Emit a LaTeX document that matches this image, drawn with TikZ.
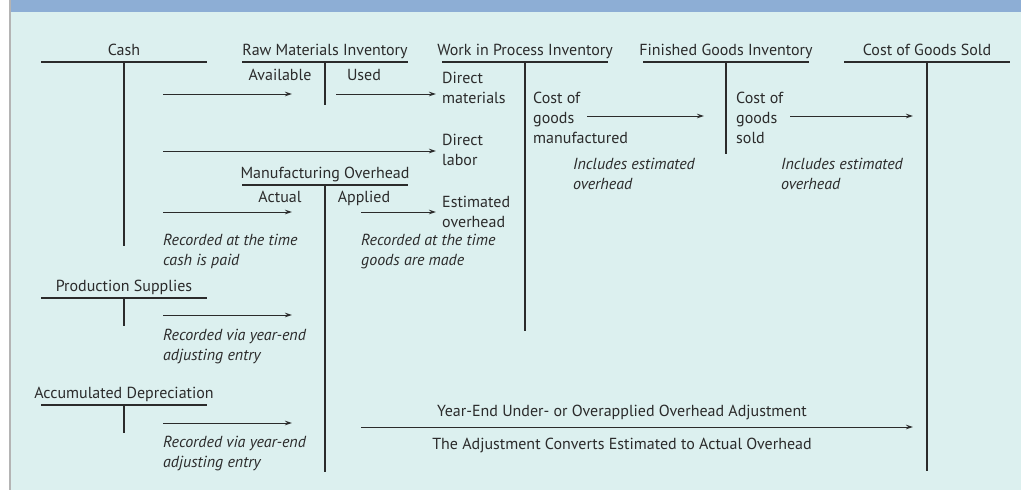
\documentclass[tikz,border=0pt]{standalone}
\usepackage{fontspec}
\setmainfont{PT Sans}
\usetikzlibrary{arrows.meta, positioning}

\definecolor{bandblue}{HTML}{8DAED5}
\definecolor{panel}{HTML}{DCF0EF}
\definecolor{edgegray}{HTML}{B4B4B4}
\definecolor{ink}{HTML}{2B2B2B}

\newcommand{\chartsize}{\fontsize{16}{20}\selectfont}

\tikzset{
  tline/.style={draw=ink, line width=1.4pt},
  flow/.style={draw=ink, line width=1pt, -{Stealth[length=7pt, width=4.5pt]}},
  acct/.style={anchor=base, inner sep=0pt, text=ink},
  lbl/.style={inner sep=0pt, text=ink, align=left, anchor=base west},
  note/.style={lbl, font=\chartsize\itshape},
}

\begin{document}
\begin{tikzpicture}[x=1pt, y=-1pt, font=\chartsize]
        % Hintergrund
        \useasboundingbox (0,0) rectangle (1021,490);
        \fill[white] (0,0) rectangle (1021,490);
        \fill[panel] (11,0) rectangle (1021,490);
        \fill[bandblue] (11,0) rectangle (1021,12);
        \draw[edgegray, line width=2pt] (10,0) -- (10,490);

        % T-Konten: Name/Mitte/Linie/Laenge/Titel
        \foreach \nm/\cx/\ty/\vlen/\ttl in {
            cash/124/62/184/Cash,
            rmi/325/62/43/Raw Materials Inventory,
            wip/525/62/269/Work in Process Inventory,
            fgi/726/62/92/Finished Goods Inventory,
            cogs/927/62/409/Cost of Goods Sold,
            moh/325/185/287/Manufacturing Overhead,
            ps/124/298/28/Production Supplies,
            ad/124/405/28/Accumulated Depreciation} {
            \node[acct] (\nm) at (\cx,\ty-7) {\ttl};
            \draw[tline] (\cx-83,\ty) -- (\cx+83,\ty);
            \draw[tline] (\cx,\ty) -- (\cx,\ty+\vlen);
        }

        % Soll / Haben
        \node[acct] (rmiL) at (280,80) {Available};
        \node[acct] (rmiR) at (364,80) {Used};
        \node[acct] (mohL) at (280,202) {Actual};
        \node[acct] (mohR) at (364,202) {Applied};

        % Eintraege (Grundlinie = letzte Zeile)
        \node[lbl] (dm) at (442,103) {Direct\\materials};
        \node[lbl] (dl) at (442,165) {Direct\\labor};
        \node[lbl] (eo) at (442,227) {Estimated\\overhead};
        \node[lbl] (cgm) at (533,143) {Cost of\\goods\\manufactured};
        \node[lbl] (cgs) at (736,143) {Cost of\\goods\\sold};
        \node[note] (inc1) at (573,189) {Includes estimated\\overhead};
        \node[note] (inc2) at (781,189) {Includes estimated\\overhead};
        \node[note] (rec1) at (163,265) {Recorded at the time\\cash is paid};
        \node[note] (rec2) at (361,265) {Recorded at the time\\goods are made};
        \node[note] (rec3) at (163,360) {Recorded via year-end\\adjusting entry};
        \node[note] (rec4) at (163,467) {Recorded via year-end\\adjusting entry};
        \node[acct] (adj1) at (622,416) {Year-End Under- or Overapplied Overhead Adjustment};
        \node[acct] (adj2) at (622,449) {The Adjustment Converts Estimated to Actual Overhead};

        % Pfeile
        \coordinate (a1) at (163,94);  \coordinate (b1) at (292,94);
        \coordinate (a2) at (336,94);  \coordinate (b2) at (436,94);
        \coordinate (a3) at (163,151); \coordinate (b3) at (436,151);
        \coordinate (a4) at (163,212); \coordinate (b4) at (292,212);
        \coordinate (a5) at (361,212); \coordinate (b5) at (436,212);
        \coordinate (a6) at (587,116); \coordinate (b6) at (704,116);
        \coordinate (a7) at (790,116); \coordinate (b7) at (913,116);
        \coordinate (a8) at (163,315); \coordinate (b8) at (292,315);
        \coordinate (a9) at (163,423); \coordinate (b9) at (292,423);
        \coordinate (a10) at (361,427); \coordinate (b10) at (913,427);
        \foreach \i in {1,...,10}
            \draw[flow] (a\i) -- (b\i);
\end{tikzpicture}
\end{document}
